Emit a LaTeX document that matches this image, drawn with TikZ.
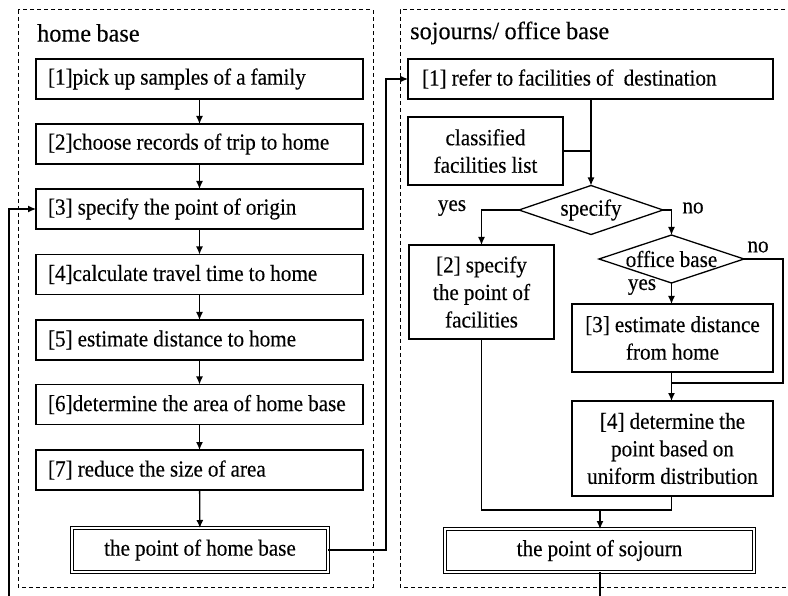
\documentclass[tikz,border=0pt]{standalone}
\usepackage{fontspec}
\setmainfont[FakeStretch=0.92,FakeBold=0.25,WordSpace=0.95]{Liberation Serif}
\newfontfamily\titlefont[FakeStretch=0.97,FakeBold=0.25,WordSpace=0.9]{Liberation Serif}
\usetikzlibrary{shapes.geometric,arrows.meta}
\newcommand{\lline}[1]{\makebox[303pt][l]{#1}}
\begin{document}
\begin{tikzpicture}[x=1pt,y=-1pt,
  every node/.style={font=\fontsize{23}{27.5}\selectfont},
  lbox/.style={draw,line width=1.3pt,minimum height=40pt,minimum width=327pt,inner xsep=12pt,inner ysep=0pt,outer sep=0pt},
  cbox/.style={draw,line width=1.3pt,align=center,inner sep=0pt,outer sep=0pt},
  dbox/.style={draw,double,line width=1pt,double distance=2pt,align=center,inner sep=0pt,outer sep=0pt},
  decide/.style={draw,diamond,aspect=2.95,line width=1.3pt,inner sep=0pt,outer sep=0pt},
  lab/.style={font=\fontsize{23}{26}\selectfont,inner sep=0pt},
  ttl/.style={font=\titlefont\fontsize{25}{28}\selectfont,anchor=west,inner sep=0pt},
  frame/.style={dashed,dash pattern=on 4pt off 3pt,line width=1pt},
  conn/.style={line width=1.3pt},
  arr/.style={line width=1.3pt,-{Latex[length=8pt,width=7pt]}}]
\useasboundingbox (0,0) rectangle (788,596);
\fill[white] (0,0) rectangle (788,596);

% frames
\draw[frame] (18,10) rectangle (373,587);
\draw[frame] (792,10) -- (400,10) -- (400,587) -- (792,587);
\node[ttl] (t1) at (37,33) {home base};
\node[ttl] (t2) at (410,33) {sojourns/ office base};

% left column
\node[lbox] (h1) at (199.5,79) {\lline{[1]pick up samples of a family}};
\node[lbox] (h2) at (199.5,144) {\lline{[2]choose records of trip to home}};
\node[lbox] (h3) at (199.5,209) {\lline{[3] specify the point of origin}};
\node[lbox] (h4) at (199.5,274.5) {\lline{[4]calculate travel time to home}};
\node[lbox] (h5) at (199.5,340) {\lline{[5] estimate distance to home}};
\node[lbox] (h6) at (199.5,404.5) {\lline{[6]determine the area of home base}};
\node[lbox] (h7) at (199.5,470) {\lline{[7] reduce the size of area}};
\node[dbox,minimum width=256pt,minimum height=44pt] (hb) at (200,550) {the point of home base};

\draw[arr] (h1) -- (h2);
\draw[arr] (h2) -- (h3);
\draw[arr] (h3) -- (h4);
\draw[arr] (h4) -- (h5);
\draw[arr] (h5) -- (h6);
\draw[arr] (h6) -- (h7);
\draw[arr] (h7) -- (hb);

% right column
\node[draw,line width=1.3pt,minimum height=40pt,inner xsep=14pt,inner ysep=0pt,outer sep=0pt] (r1) at (590.5,79) {\makebox[337pt][l]{[1] refer to facilities of~ destination}};
\node[cbox,minimum width=155pt,minimum height=68pt] (cl) at (485.5,151) {classified\\facilities list};
\node[decide,minimum width=144pt,minimum height=49pt] (sp) at (591,210) {specify};
\node[decide,minimum width=145pt,minimum height=48pt] (ob) at (671.5,259) {office base};
\node[cbox,minimum width=145pt,minimum height=94pt] (r2) at (481.5,292) {[2] specify\\the point of\\facilities};
\node[cbox,minimum width=201pt,minimum height=68pt] (r3) at (672.5,338) {[3] estimate distance\\from home};
\node[cbox,minimum width=201pt,minimum height=95pt] (r4) at (672.5,448.5) {[4] determine the\\point based on\\uniform distribution};
\node[dbox,minimum width=309pt,minimum height=43pt] (sj) at (599.5,550.5) {the point of sojourn};

\node[lab] (y1) at (452,208) {yes};
\node[lab] (n1) at (693,208) {no};
\node[lab] (n2) at (758,247) {no};
\node[lab] (y2) at (642,287) {yes};

\coordinate (up) at (386,550);
\coordinate (j1) at (672,383);
\coordinate (j2) at (600,510);
\coordinate (e1) at (600,598);
\coordinate (e2) at (9,598);

\draw[arr] (hb.east) -- (up) |- (r1.west);
\draw[arr] (r1.south -| sp.north) -- (sp.north);
\draw[conn] (cl.east) -- (cl.east -| sp.north);
\draw[arr] (sp.west) -| (r2.north);
\draw[arr] (sp.east) -| (ob.north);
\draw[arr] (ob.south) -- (ob.south |- r3.north);
\draw[conn] (ob.east) -| (783,383) -- (j1);
\draw[arr] (r3.south -| ob.south) -- (r4.north -| ob.south);
\draw[conn] (r2.south) |- (j2) -| (r4.south -| ob.south);
\draw[arr] (j2) -- (j2 |- sj.north);
\draw[conn] (sj.south -| j2) -- (e1);
\draw[arr] (e2) |- (h3.west);
\end{tikzpicture}
\end{document}
